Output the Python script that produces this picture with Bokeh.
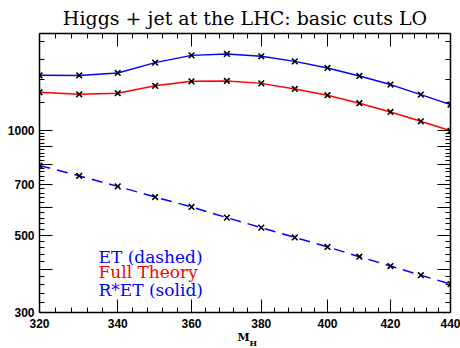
from bokeh.plotting import figure
from bokeh.models import LogAxis, FixedTicker, Label, Title, BasicTickFormatter
from bokeh.embed import file_html
from bokeh.resources import INLINE

# Higgs mass points (GeV) and cross sections for the three predictions
masses = [320, 330, 340, 350, 360, 370, 380, 390, 400, 410, 420, 430, 440]
et_dashed = [793, 741, 691, 644, 603, 562, 526, 493, 463, 434, 408, 384, 362]
full_theory = [1288, 1271, 1280, 1344, 1385, 1388, 1366, 1317, 1263, 1198, 1131, 1063, 998]
r_times_et = [1441, 1440, 1464, 1567, 1644, 1660, 1634, 1580, 1513, 1435, 1355, 1268, 1187]

# tick layout
x_major = [320, 340, 360, 380, 400, 420, 440]
x_minor = [v for v in range(320, 441, 4) if v not in x_major]
y_major = [300, 400, 500, 600, 700, 800, 900, 1000]
y_labels = {300: "300", 500: "500", 700: "700", 1000: "1000"}
y_minor = [v for v in range(300, 1001, 20) if v not in y_major] + [1200, 1400, 1600, 1800]

BLUE = "#0000ff"
RED = "#ff0000"

p = figure(width=460, height=348, x_axis_type="log", y_axis_type="log",
           x_range=(320, 440), y_range=(300, 1900),
           output_backend="svg", toolbar_location=None,
           min_border_left=39, min_border_right=10, min_border_top=32, min_border_bottom=36)
p.title = Title(text="Higgs + jet at the LHC: basic cuts LO", align="center",
                text_font="DejaVu Serif", text_font_size="19px",
                text_font_style="normal", text_color="black", standoff=9)
p.grid.visible = False
p.outline_line_color = None
p.background_fill_color = "white"
p.border_fill_color = "white"


def style_axis(ax, ticks, minors, labels=True, standoff=5):
    ax.ticker = FixedTicker(ticks=ticks, minor_ticks=minors)
    ax.axis_line_color = "black"
    ax.axis_line_width = 1.5
    ax.major_tick_in = 13
    ax.major_tick_out = 0
    ax.minor_tick_in = 5
    ax.minor_tick_out = 0
    ax.major_tick_line_color = "black"
    ax.minor_tick_line_color = "black"
    ax.major_tick_line_width = 1
    ax.minor_tick_line_width = 1
    ax.major_label_standoff = standoff
    ax.major_label_text_font = "Liberation Sans"
    ax.major_label_text_font_style = "bold"
    ax.major_label_text_font_size = "12px"
    ax.major_label_text_color = "black"
    if not labels:
        # mirrored frame axis: ticks only
        ax.major_label_overrides = {v: "" for v in ticks}
        ax.major_label_standoff = 0


xaxis = p.xaxis[0]
yaxis = p.yaxis[0]
xaxis.formatter = BasicTickFormatter()
yaxis.formatter = BasicTickFormatter()
style_axis(xaxis, x_major, x_minor, standoff=6)
style_axis(yaxis, y_major, y_minor, standoff=5)
yaxis.major_label_overrides = {v: y_labels.get(v, "") for v in y_major}

top_axis = LogAxis(formatter=BasicTickFormatter())
right_axis = LogAxis(formatter=BasicTickFormatter())
style_axis(top_axis, x_major, x_minor, labels=False)
style_axis(right_axis, y_major, y_minor, labels=False)
p.add_layout(top_axis, "above")
p.add_layout(right_axis, "right")

# curves
p.line(masses, et_dashed, line_color=BLUE, line_width=1.5, line_dash="11 7")
p.line(masses, full_theory, line_color=RED, line_width=1.5)
p.line(masses, r_times_et, line_color=BLUE, line_width=1.5)
for series in (et_dashed, full_theory, r_times_et):
    p.scatter(masses, series, marker="x", size=8, line_color="black", line_width=1.6)

# key text
for text, color, yb in (("ET (dashed)", BLUE, 56), ("Full Theory", RED, 40.5), ("R*ET (solid)", BLUE, 23)):
    p.add_layout(Label(x=59, y=yb, x_units="screen", y_units="screen", text=text,
                       text_color=color, text_font="DejaVu Serif", text_font_size="17px",
                       text_baseline="alphabetic"))

# axis title M_H: "M" then a lowered, smaller "H" in the panel under the x axis
p.add_layout(Title(text="M", align="left", offset=198, standoff=-3, vertical_align="bottom",
                   text_font="DejaVu Serif", text_font_style="bold", text_font_size="11px",
                   text_color="black"), "below")
p.add_layout(Title(text="H", align="left", offset=210, standoff=-10, vertical_align="top",
                   text_font="DejaVu Serif", text_font_style="bold", text_font_size="8px",
                   text_color="black"), "below")

open("out.html", "w").write(file_html(p, INLINE))
